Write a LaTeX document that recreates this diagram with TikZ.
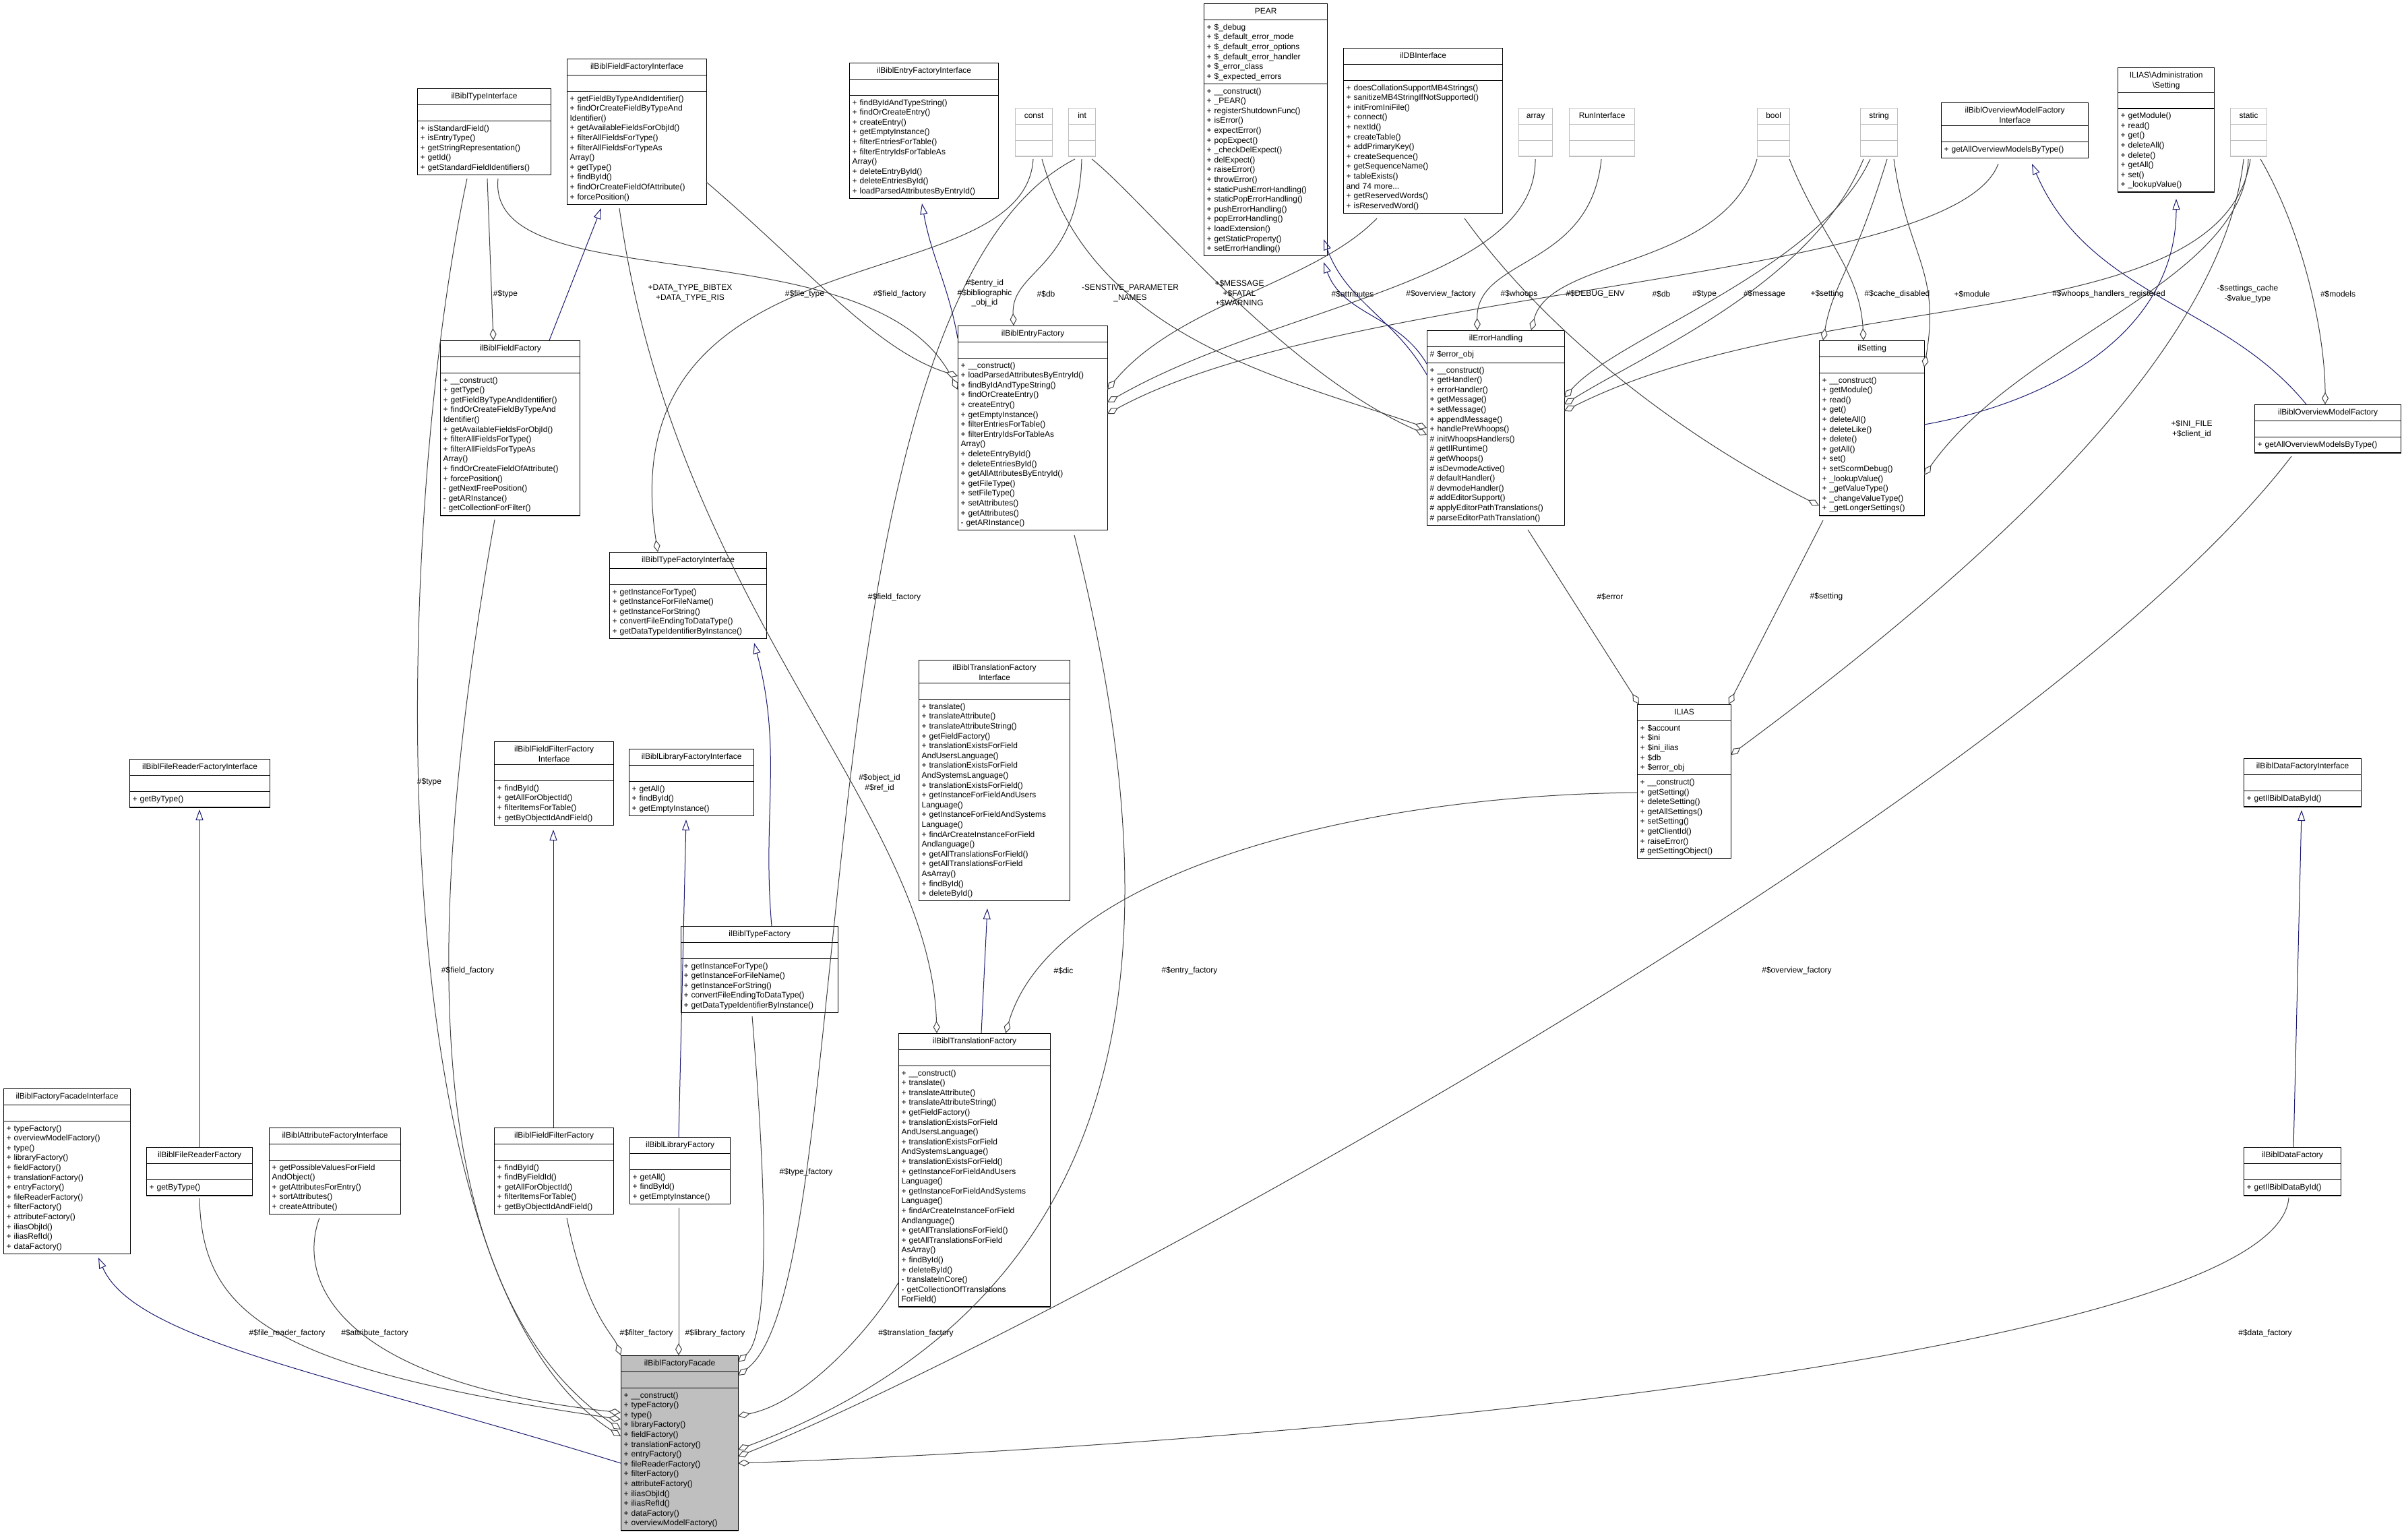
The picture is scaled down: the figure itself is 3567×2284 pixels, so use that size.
\documentclass[tikz,border=0pt]{standalone}
\usepackage{fontspec}
\setmainfont{Liberation Sans}
\usetikzlibrary{shapes.multipart,arrows.meta}
\definecolor{inhc}{RGB}{25,25,112}
\definecolor{edgec}{RGB}{64,64,64}
\definecolor{phc}{RGB}{191,191,191}
\newcommand\cfont{\fontsize{12}{14.6}\selectfont}
\newcommand\cls[8][]{\node[cls,#1,text width={#5pt-8pt}] (#2) at (#3,#4) {\centering\strut #6\par\nodepart{two}\raggedright\strut #7\par\nodepart{three}\raggedright\strut #8\par};}
\newcommand\ph[5]{\node[cls,draw=phc,text width={#4pt-8pt}] (#1) at (#2,#3) {\centering\strut #5\par\nodepart{two}\strut\nodepart{three}\strut};}
\tikzset{
 cls/.style={rectangle split, rectangle split parts=3, draw=black, line width=1.2pt, inner xsep=4pt, inner ysep=4pt, anchor=north west, fill=white, font=\cfont},
 inh/.style={draw=inhc, line width=1pt, -{Triangle[open,length=16pt,width=11pt]}},
 comp/.style={draw=edgec, line width=1pt, -{Diamond[open,fill=white,length=18pt,width=10pt]}},
 lbl/.style={font=\cfont, align=center, inner sep=1pt}
}
\begin{document}
\begin{tikzpicture}[x=1pt,y=-1pt]
\fill[white] (0,0) rectangle (3567,2284);
\useasboundingbox (0,0) rectangle (3567,2284);
% ---- classes
\cls{TI}{619}{131}{198}{ilBiblTypeInterface}{}{+ isStandardField()\\+ isEntryType()\\+ getStringRepresentation()\\+ getId()\\+ getStandardFieldIdentifiers()}
\cls{FFI}{841}{87}{207}{ilBiblFieldFactoryInterface}{}{+ getFieldByTypeAndIdentifier()\\+ findOrCreateFieldByTypeAnd\\Identifier()\\+ getAvailableFieldsForObjId()\\+ filterAllFieldsForType()\\+ filterAllFieldsForTypeAs\\Array()\\+ getType()\\+ findById()\\+ findOrCreateFieldOfAttribute()\\+ forcePosition()}
\cls{EFI}{1260}{93}{221}{ilBiblEntryFactoryInterface}{}{+ findByIdAndTypeString()\\+ findOrCreateEntry()\\+ createEntry()\\+ getEmptyInstance()\\+ filterEntriesForTable()\\+ filterEntryIdsForTableAs\\Array()\\+ deleteEntryById()\\+ deleteEntriesById()\\+ loadParsedAttributesByEntryId()}
\ph{cst}{1506}{160}{55}{const}
\ph{intn}{1585}{160}{40}{int}
\cls{PEAR}{1786}{5}{183}{PEAR}{+ \$\_debug\\+ \$\_default\_error\_mode\\+ \$\_default\_error\_options\\+ \$\_default\_error\_handler\\+ \$\_error\_class\\+ \$\_expected\_errors}{+ \_\_construct()\\+ \_PEAR()\\+ registerShutdownFunc()\\+ isError()\\+ expectError()\\+ popExpect()\\+ \_checkDelExpect()\\+ delExpect()\\+ raiseError()\\+ throwError()\\+ staticPushErrorHandling()\\+ staticPopErrorHandling()\\+ pushErrorHandling()\\+ popErrorHandling()\\+ loadExtension()\\+ getStaticProperty()\\+ setErrorHandling()}
\cls{DBI}{1993}{71}{236}{ilDBInterface}{}{+ doesCollationSupportMB4Strings()\\+ sanitizeMB4StringIfNotSupported()\\+ initFromIniFile()\\+ connect()\\+ nextId()\\+ createTable()\\+ addPrimaryKey()\\+ createSequence()\\+ getSequenceName()\\+ tableExists()\\and 74 more...\\+ getReservedWords()\\+ isReservedWord()}
\ph{arr}{2253}{160}{50}{array}
\ph{runi}{2328}{160}{97}{RunInterface}
\ph{booln}{2607}{160}{48}{bool}
\ph{strn}{2760}{160}{55}{string}
\cls{OMFI}{2880}{152}{218}{ilBiblOverviewModelFactory\\Interface}{}{+ getAllOverviewModelsByType()}
\cls{ADS}{3142}{100}{143}{ILIAS\textbackslash Administration\\\textbackslash Setting}{}{+ getModule()\\+ read()\\+ get()\\+ deleteAll()\\+ delete()\\+ getAll()\\+ set()\\+ \_lookupValue()}
\ph{stat}{3309}{160}{54}{static}
\cls{FF}{653}{505}{207}{ilBiblFieldFactory}{}{+ \_\_construct()\\+ getType()\\+ getFieldByTypeAndIdentifier()\\+ findOrCreateFieldByTypeAnd\\Identifier()\\+ getAvailableFieldsForObjId()\\+ filterAllFieldsForType()\\+ filterAllFieldsForTypeAs\\Array()\\+ findOrCreateFieldOfAttribute()\\+ forcePosition()\\- getNextFreePosition()\\- getARInstance()\\- getCollectionForFilter()}
\cls{EF}{1421}{483}{222}{ilBiblEntryFactory}{}{+ \_\_construct()\\+ loadParsedAttributesByEntryId()\\+ findByIdAndTypeString()\\+ findOrCreateEntry()\\+ createEntry()\\+ getEmptyInstance()\\+ filterEntriesForTable()\\+ filterEntryIdsForTableAs\\Array()\\+ deleteEntryById()\\+ deleteEntriesById()\\+ getAllAttributesByEntryId()\\+ getFileType()\\+ setFileType()\\+ setAttributes()\\+ getAttributes()\\- getARInstance()}
\cls{EH}{2117}{490}{204}{ilErrorHandling}{\# \$error\_obj}{+ \_\_construct()\\+ getHandler()\\+ errorHandler()\\+ getMessage()\\+ setMessage()\\+ appendMessage()\\+ handlePreWhoops()\\\# initWhoopsHandlers()\\\# getIlRuntime()\\\# getWhoops()\\\# isDevmodeActive()\\\# defaultHandler()\\\# devmodeHandler()\\\# addEditorSupport()\\\# applyEditorPathTranslations()\\\# parseEditorPathTranslation()}
\cls{SET}{2699}{505}{156}{ilSetting}{}{+ \_\_construct()\\+ getModule()\\+ read()\\+ get()\\+ deleteAll()\\+ deleteLike()\\+ delete()\\+ getAll()\\+ set()\\+ setScormDebug()\\+ \_lookupValue()\\+ \_getValueType()\\+ \_changeValueType()\\+ \_getLongerSettings()}
\cls{OMF}{3345}{600}{217}{ilBiblOverviewModelFactory}{}{+ getAllOverviewModelsByType()}
\cls{TFI}{904}{819}{233}{ilBiblTypeFactoryInterface}{}{+ getInstanceForType()\\+ getInstanceForFileName()\\+ getInstanceForString()\\+ convertFileEndingToDataType()\\+ getDataTypeIdentifierByInstance()}
\cls{TRFI}{1363}{979}{224}{ilBiblTranslationFactory\\Interface}{}{+ translate()\\+ translateAttribute()\\+ translateAttributeString()\\+ getFieldFactory()\\+ translationExistsForField\\AndUsersLanguage()\\+ translationExistsForField\\AndSystemsLanguage()\\+ translationExistsForField()\\+ getInstanceForFieldAndUsers\\Language()\\+ getInstanceForFieldAndSystems\\Language()\\+ findArCreateInstanceForField\\Andlanguage()\\+ getAllTranslationsForField()\\+ getAllTranslationsForField\\AsArray()\\+ findById()\\+ deleteById()}
\cls{ILIAS}{2429}{1045}{139}{ILIAS}{+ \$account\\+ \$ini\\+ \$ini\_ilias\\+ \$db\\+ \$error\_obj}{+ \_\_construct()\\+ getSetting()\\+ deleteSetting()\\+ getAllSettings()\\+ setSetting()\\+ getClientId()\\+ raiseError()\\\# getSettingObject()}
\cls{DFI}{3329}{1125}{174}{ilBiblDataFactoryInterface}{}{+ getIlBiblDataById()}
\cls{FRFI}{192}{1126}{208}{ilBiblFileReaderFactoryInterface}{}{+ getByType()}
\cls{FFFI}{733}{1100}{177}{ilBiblFieldFilterFactory\\Interface}{}{+ findById()\\+ getAllForObjectId()\\+ filterItemsForTable()\\+ getByObjectIdAndField()}
\cls{LFI}{933}{1111}{185}{ilBiblLibraryFactoryInterface}{}{+ getAll()\\+ findById()\\+ getEmptyInstance()}
\cls{TYF}{1010}{1374}{233}{ilBiblTypeFactory}{}{+ getInstanceForType()\\+ getInstanceForFileName()\\+ getInstanceForString()\\+ convertFileEndingToDataType()\\+ getDataTypeIdentifierByInstance()}
\cls{TRF}{1333}{1533}{225}{ilBiblTranslationFactory}{}{+ \_\_construct()\\+ translate()\\+ translateAttribute()\\+ translateAttributeString()\\+ getFieldFactory()\\+ translationExistsForField\\AndUsersLanguage()\\+ translationExistsForField\\AndSystemsLanguage()\\+ translationExistsForField()\\+ getInstanceForFieldAndUsers\\Language()\\+ getInstanceForFieldAndSystems\\Language()\\+ findArCreateInstanceForField\\Andlanguage()\\+ getAllTranslationsForField()\\+ getAllTranslationsForField\\AsArray()\\+ findById()\\+ deleteById()\\- translateInCore()\\- getCollectionOfTranslations\\ForField()}
\cls{FFaI}{5}{1615}{188}{ilBiblFactoryFacadeInterface}{}{+ typeFactory()\\+ overviewModelFactory()\\+ type()\\+ libraryFactory()\\+ fieldFactory()\\+ translationFactory()\\+ entryFactory()\\+ fileReaderFactory()\\+ filterFactory()\\+ attributeFactory()\\+ iliasObjId()\\+ iliasRefId()\\+ dataFactory()}
\cls{FRF}{217}{1702}{157}{ilBiblFileReaderFactory}{}{+ getByType()}
\cls{AFI}{399}{1673}{195}{ilBiblAttributeFactoryInterface}{}{+ getPossibleValuesForField\\AndObject()\\+ getAttributesForEntry()\\+ sortAttributes()\\+ createAttribute()}
\cls{FFF}{733}{1673}{177}{ilBiblFieldFilterFactory}{}{+ findById()\\+ findByFieldId()\\+ getAllForObjectId()\\+ filterItemsForTable()\\+ getByObjectIdAndField()}
\cls{LF}{934}{1687}{149}{ilBiblLibraryFactory}{}{+ getAll()\\+ findById()\\+ getEmptyInstance()}
\cls[fill=phc]{FFa}{921}{2011}{174}{ilBiblFactoryFacade}{}{+ \_\_construct()\\+ typeFactory()\\+ type()\\+ libraryFactory()\\+ fieldFactory()\\+ translationFactory()\\+ entryFactory()\\+ fileReaderFactory()\\+ filterFactory()\\+ attributeFactory()\\+ iliasObjId()\\+ iliasRefId()\\+ dataFactory()\\+ overviewModelFactory()}
\cls{DF}{3329}{1702}{144}{ilBiblDataFactory}{}{+ getIlBiblDataById()}
% ---- inheritance
\draw[inh] ([shift={(162,0)}]FF.north west) -- ([shift={(51,222)}]FFI.north west);
\draw[inh] ([shift={(0,19)}]EF.north west) to[out=100,in=-80] ([shift={(108,209)}]EFI.north west);
\draw[inh] ([shift={(0,66)}]EH.north west) to[out=120,in=-70] ([shift={(178,350)}]PEAR.north west);
\draw[inh] ([shift={(0,50)}]EH.north west) to[out=120,in=-70] ([shift={(178,384)}]PEAR.north west);
\draw[inh] ([shift={(156,125)}]SET.north west) to[out=10,in=-90] ([shift={(87,195)}]ADS.north west);
\draw[inh] ([shift={(77,0)}]OMF.north west) .. controls (3300,450) and (3100,440) .. ([shift={(135,91)}]OMFI.north west);
\draw[inh] ([shift={(135,0)}]TYF.north west) to[out=95,in=-75] ([shift={(215,135)}]TFI.north west);
\draw[inh] ([shift={(73,0)}]LF.north west) -- ([shift={(85,105)}]LFI.north west);
\draw[inh] ([shift={(88,0)}]FFF.north west) -- ([shift={(88,131)}]FFFI.north west);
\draw[inh] ([shift={(79,0)}]FRF.north west) -- ([shift={(104,75)}]FRFI.north west);
\draw[inh] ([shift={(123,0)}]TRF.north west) -- ([shift={(102,369)}]TRFI.north west);
\draw[inh] ([shift={(74,0)}]DF.north west) -- ([shift={(86,77)}]DFI.north west);
\draw[inh] ([shift={(0,160)}]FFa.north west) .. controls (500,2040) and (200,1990) .. ([shift={(141,251)}]FFaI.north west);
% ---- compositions
\draw[comp] ([shift={(104,134)}]TI.north west) -- ([shift={(79,0)}]FF.north west);
\draw[comp] ([shift={(74,134)}]TI.north west) .. controls (580,800) and (560,1900) .. ([shift={(0,120)}]FFa.north west);
\draw[comp] ([shift={(120,134)}]TI.north west) .. controls (720,450) and (1300,330) .. ([shift={(0,95)}]EF.north west);
\draw[comp] ([shift={(207,183)}]FFI.north west) .. controls (1200,400) and (1300,520) .. ([shift={(0,75)}]EF.north west);
\draw[comp] ([shift={(78,222)}]FFI.north west) .. controls (1000,900) and (1380,1200) .. ([shift={(57,0)}]TRF.north west);
\draw[comp] ([shift={(81,266)}]FF.north west) .. controls (640,1300) and (600,1900) .. ([shift={(0,110)}]FFa.north west);
\draw[comp] ([shift={(27,76)}]cst.north west) .. controls (1520,450) and (900,330) .. ([shift={(72,0)}]TFI.north west);
\draw[comp] ([shift={(20,76)}]intn.north west) .. controls (1600,400) and (1500,400) .. ([shift={(83,0)}]EF.north west);
\draw[comp] ([shift={(10,76)}]intn.north west) .. controls (1180,450) and (1280,1900) .. ([shift={(174,30)}]FFa.north west);
\draw[comp] ([shift={(40,76)}]cst.north west) .. controls (1620,500) and (1900,560) .. ([shift={(0,145)}]EH.north west);
\draw[comp] ([shift={(35,76)}]intn.north west) .. controls (1700,300) and (1900,550) .. ([shift={(0,155)}]EH.north west);
\draw[comp] ([shift={(50,253)}]DBI.north west) .. controls (1950,420) and (1750,450) .. ([shift={(222,95)}]EF.north west);
\draw[comp] ([shift={(180,253)}]DBI.north west) .. controls (2300,500) and (2500,650) .. ([shift={(0,245)}]SET.north west);
\draw[comp] ([shift={(25,76)}]arr.north west) .. controls (2280,420) and (1900,450) .. ([shift={(222,114)}]EF.north west);
\draw[comp] ([shift={(85,91)}]OMFI.north west) .. controls (2900,420) and (2000,420) .. ([shift={(222,131)}]EF.north west);
\draw[comp] ([shift={(48,76)}]runi.north west) .. controls (2360,400) and (2190,380) .. ([shift={(75,0)}]EH.north west);
\draw[comp] ([shift={(0,76)}]booln.north west) .. controls (2560,400) and (2300,380) .. ([shift={(155,0)}]EH.north west);
\draw[comp] ([shift={(15,76)}]strn.north west) .. controls (2700,400) and (2400,500) .. ([shift={(204,100)}]EH.north west);
\draw[comp] ([shift={(5,76)}]strn.north west) .. controls (2690,420) and (2450,520) .. ([shift={(204,110)}]EH.north west);
\draw[comp] ([shift={(30,76)}]stat.north west) .. controls (3300,500) and (2700,420) .. ([shift={(204,120)}]EH.north west);
\draw[comp] ([shift={(48,76)}]booln.north west) .. controls (2700,350) and (2760,400) .. ([shift={(66,0)}]SET.north west);
\draw[comp] ([shift={(40,76)}]strn.north west) .. controls (2750,400) and (2720,420) .. ([shift={(6,0)}]SET.north west);
\draw[comp] ([shift={(50,76)}]strn.north west) .. controls (2830,380) and (2880,400) .. ([shift={(156,40)}]SET.north west);
\draw[comp] ([shift={(27,76)}]stat.north west) .. controls (3330,420) and (3000,500) .. ([shift={(156,200)}]SET.north west);
\draw[comp] ([shift={(45,76)}]stat.north west) .. controls (3420,350) and (3450,500) .. ([shift={(105,0)}]OMF.north west);
\draw[comp] ([shift={(20,76)}]stat.north west) .. controls (3300,500) and (3000,800) .. ([shift={(139,75)}]ILIAS.north west);
\draw[comp] ([shift={(150,296)}]EH.north west) -- ([shift={(3,0)}]ILIAS.north west);
\draw[comp] ([shift={(6,267)}]SET.north west) -- ([shift={(136,0)}]ILIAS.north west);
\draw[comp] ([shift={(0,131)}]ILIAS.north west) .. controls (2000,1180) and (1560,1300) .. ([shift={(159,0)}]TRF.north west);
\draw[comp] ([shift={(173,311)}]EF.north west) .. controls (1720,1300) and (1760,1900) .. ([shift={(174,140)}]FFa.north west);
\draw[comp] ([shift={(55,77)}]OMF.north west) .. controls (3000,1200) and (1500,2000) .. ([shift={(174,150)}]FFa.north west);
\draw[comp] ([shift={(67,75)}]DF.north west) .. controls (3380,2000) and (2000,2140) .. ([shift={(174,160)}]FFa.north west);
\draw[comp] ([shift={(0,370)}]TRF.north west) .. controls (1300,1960) and (1200,2080) .. ([shift={(174,90)}]FFa.north west);
\draw[comp] ([shift={(106,134)}]TYF.north west) .. controls (1140,1800) and (1140,1980) .. ([shift={(174,10)}]FFa.north west);
\draw[comp] ([shift={(73,105)}]LF.north west) -- ([shift={(86,0)}]FFa.north west);
\draw[comp] ([shift={(108,134)}]FFF.north west) .. controls (870,1950) and (910,1980) .. ([shift={(0,0)}]FFa.north west);
\draw[comp] ([shift={(75,134)}]AFI.north west) .. controls (440,1900) and (500,2050) .. ([shift={(0,85)}]FFa.north west);
\draw[comp] ([shift={(79,76)}]FRF.north west) .. controls (300,1950) and (400,2030) .. ([shift={(0,95)}]FFa.north west);
% ---- labels
\node[lbl] (L1) at (750,436) {\#\$type};
\node[lbl] (L2) at (1024,435) {+DATA\_TYPE\_BIBTEX\\+DATA\_TYPE\_RIS};
\node[lbl] (L3) at (1194,436) {\#\$file\_type};
\node[lbl] (L4) at (1335,436) {\#\$field\_factory};
\node[lbl] (L5) at (1461,435) {\#\$entry\_id\\\#\$bibliographic\\\_obj\_id};
\node[lbl] (L6) at (1552,436) {\#\$db};
\node[lbl] (L7) at (1677,435) {-SENSTIVE\_PARAMETER\\\_NAMES};
\node[lbl] (L8) at (1839,435) {+\$MESSAGE\\+\$FATAL\\+\$WARNING};
\node[lbl] (L9) at (2007,436) {\#\$attributes};
\node[lbl] (L10) at (2138,436) {\#\$overview\_factory};
\node[lbl] (L11) at (2254,436) {\#\$whoops};
\node[lbl] (L12) at (2367,436) {\#\$DEBUG\_ENV};
\node[lbl] (L13) at (2465,436) {\#\$db};
\node[lbl] (L14) at (2529,436) {\#\$type};
\node[lbl] (L15) at (2618,436) {\#\$message};
\node[lbl] (L16) at (2711,436) {+\$setting};
\node[lbl] (L17) at (2815,436) {\#\$cache\_disabled};
\node[lbl] (L18) at (2926,436) {+\$module};
\node[lbl] (L19) at (3129,436) {\#\$whoops\_handlers\_registered};
\node[lbl] (L20) at (3335,436) {-\$settings\_cache\\-\$value\_type};
\node[lbl] (L21) at (3469,436) {\#\$models};
\node[lbl] (L22) at (3252,637) {+\$INI\_FILE\\+\$client\_id};
\node[lbl] (L23) at (2389,885) {\#\$error};
\node[lbl] (L24) at (2710,885) {\#\$setting};
\node[lbl] (L25) at (1327,886) {\#\$field\_factory};
\node[lbl] (L26) at (1305,1162) {\#\$object\_id\\\#\$ref\_id};
\node[lbl] (L27) at (637,1160) {\#\$type};
\node[lbl] (L28) at (694,1440) {\#\$field\_factory};
\node[lbl] (L29) at (1578,1440) {\#\$dic};
\node[lbl] (L30) at (1765,1440) {\#\$entry\_factory};
\node[lbl] (L31) at (2666,1440) {\#\$overview\_factory};
\node[lbl] (L32) at (1196,1739) {\#\$type\_factory};
\node[lbl] (L33) at (426,1978) {\#\$file\_reader\_factory};
\node[lbl] (L34) at (556,1978) {\#\$attribute\_factory};
\node[lbl] (L35) at (959,1978) {\#\$filter\_factory};
\node[lbl] (L36) at (1061,1978) {\#\$library\_factory};
\node[lbl] (L37) at (1359,1978) {\#\$translation\_factory};
\node[lbl] (L38) at (3361,1978) {\#\$data\_factory};
\end{tikzpicture}
\end{document}
